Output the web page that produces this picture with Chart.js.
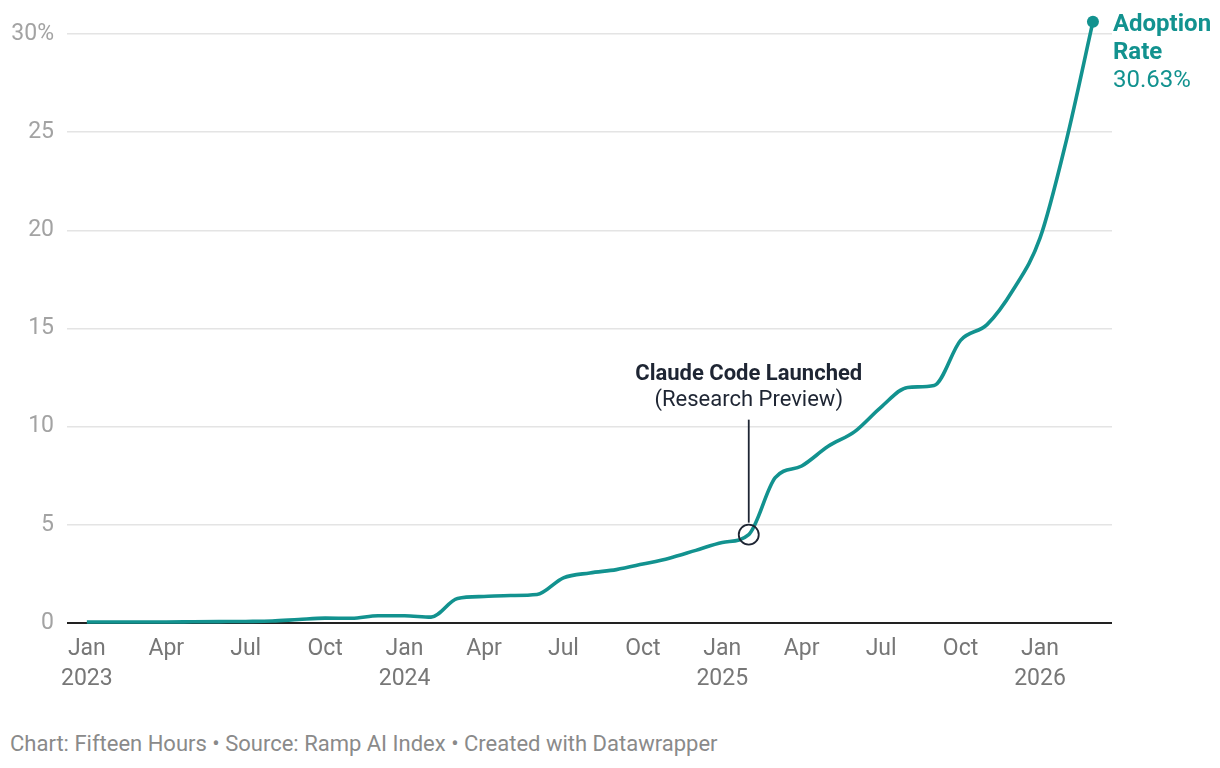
<!DOCTYPE html>
<html lang="en">
<head>
    <meta charset="UTF-8">
    <title>AI Adoption Rate</title>
    <script src="https://cdn.jsdelivr.net/npm/chart.js"></script>
    <style>
        html, body { margin: 0; padding: 0; background: #fff; }
        body { width: 1220px; height: 768px; position: relative; overflow: hidden; font-family: Roboto, sans-serif; }
        .chart-box { position: absolute; left: 0; top: 0; width: 1220px; height: 700px; }
        .footer { position: absolute; left: 10px; top: 731px; font-size: 22px; line-height: 26px; color: #8a8a8a; }
    </style>
</head>
<body>

    <div class="chart-box">
        <canvas id="adoptionChart"></canvas>
    </div>
    <div class="footer">Chart: Fifteen Hours • Source: Ramp AI Index • Created with Datawrapper</div>

    <script>
        // one value per month, Jan 2023 .. Mar 2026 (x = month index)
        var months = ['Jan', 'Feb', 'Mar', 'Apr', 'May', 'Jun', 'Jul', 'Aug', 'Sep', 'Oct', 'Nov', 'Dec'];
        var startYear = 2023;
        var adoption = [
            0.05, 0.05, 0.05, 0.05, 0.06, 0.07, 0.08, 0.10, 0.18, 0.25, 0.24, 0.37,
            0.37, 0.30, 1.25, 1.35, 1.40, 1.45, 2.30, 2.55, 2.72, 3.00, 3.30, 3.70,
            4.10, 4.50, 7.40, 8.00, 9.00, 9.75, 11.0, 12.0, 12.1, 14.4, 15.2, 17.0,
            19.6, 24.6, 30.63
        ];
        var yTicks = [0, 5, 10, 15, 20, 25, 30];
        var xTicks = [0, 3, 6, 9, 12, 15, 18, 21, 24, 27, 30, 33, 36];
        var launchIndex = 25; // Feb 2025
        var launchText = ['Claude Code Launched', '(Research Preview)'];
        var seriesName = ['Adoption', 'Rate'];

        var teal = '#12928f';
        var ink = '#1e2533';

        var points = adoption.map(function(v, i) { return { x: i, y: v }; });
        var last = adoption.length - 1;

        // annotation + end label
        var notes = {
            id: 'notes',
            afterDatasetsDraw: function(chart) {
                var ctx = chart.ctx;
                var xs = chart.scales.x, ys = chart.scales.y;

                // Claude Code marker
                var px = xs.getPixelForValue(launchIndex);
                var py = ys.getPixelForValue(adoption[launchIndex]);
                ctx.save();
                ctx.strokeStyle = ink;
                ctx.lineWidth = 1.8;
                ctx.beginPath();
                ctx.arc(px, py, 10, 0, Math.PI * 2);
                ctx.stroke();
                ctx.beginPath();
                ctx.moveTo(px, py - 12);
                ctx.lineTo(px, py - 115);
                ctx.stroke();

                ctx.fillStyle = ink;
                ctx.textAlign = 'center';
                ctx.textBaseline = 'alphabetic';
                ctx.font = 'bold 22px Roboto';
                ctx.fillText(launchText[0], px, py - 155);
                ctx.font = '22px Roboto';
                ctx.fillText(launchText[1], px, py - 129);

                // end label
                var ex = xs.getPixelForValue(last);
                var ey = ys.getPixelForValue(adoption[last]);
                ctx.fillStyle = teal;
                ctx.textAlign = 'left';
                ctx.font = 'bold 24px Roboto';
                ctx.fillText(seriesName[0], ex + 20, ey + 9);
                ctx.fillText(seriesName[1], ex + 20, ey + 37);
                ctx.font = '24px Roboto';
                ctx.fillText(adoption[last].toFixed(2) + '%', ex + 20, ey + 65);
                ctx.restore();
            }
        };

        var ctx = document.getElementById('adoptionChart').getContext('2d');
        var chart = new Chart(ctx, {
            type: 'line',
            data: {
                datasets: [{
                    data: points,
                    borderColor: teal,
                    backgroundColor: teal,
                    borderWidth: 3.6,
                    cubicInterpolationMode: 'monotone',
                    pointRadius: function(c) { return c.dataIndex === last ? 6 : 0; },
                    pointBorderWidth: 0,
                    pointHoverRadius: 0,
                    clip: false
                }]
            },
            options: {
                responsive: true,
                maintainAspectRatio: false,
                animation: false,
                events: [],
                layout: { padding: { top: 16, right: 108, left: 0, bottom: 0 } },
                plugins: {
                    legend: { display: false },
                    tooltip: { enabled: false }
                },
                scales: {
                    x: {
                        type: 'linear',
                        min: -0.75,
                        max: last + 0.72,
                        afterBuildTicks: function(s) {
                            s.ticks = xTicks.map(function(v) { return { value: v }; });
                        },
                        afterFit: function(s) { s.height = 77; },
                        grid: { display: false },
                        border: { display: false },
                        ticks: {
                            autoSkip: false,
                            maxRotation: 0,
                            padding: 3,
                            color: '#777',
                            font: { family: 'Roboto', size: 23, lineHeight: 1.3 },
                            callback: function(v) {
                                var m = months[v % 12];
                                if (v % 12 === 0) return [m, String(startYear + v / 12)];
                                return m;
                            }
                        }
                    },
                    y: {
                        min: 0,
                        max: 30.92,
                        afterBuildTicks: function(s) {
                            s.ticks = yTicks.map(function(v) { return { value: v }; });
                        },
                        afterFit: function(s) {
                            s.width = 67;
                            s.paddingTop = 0;
                            s.paddingBottom = 0;
                        },
                        border: { display: false },
                        grid: {
                            drawTicks: false,
                            color: function(c) { return c.tick && c.tick.value === 0 ? '#222' : '#e4e4e4'; },
                            lineWidth: function(c) { return c.tick && c.tick.value === 0 ? 2 : 1.5; }
                        },
                        ticks: {
                            padding: 13,
                            color: '#a3a3a3',
                            font: { family: 'Roboto', size: 23 },
                            callback: function(v) { return v === 30 ? v + '%' : v; }
                        }
                    }
                }
            },
            plugins: [notes]
        });
    </script>
</body>
</html>
